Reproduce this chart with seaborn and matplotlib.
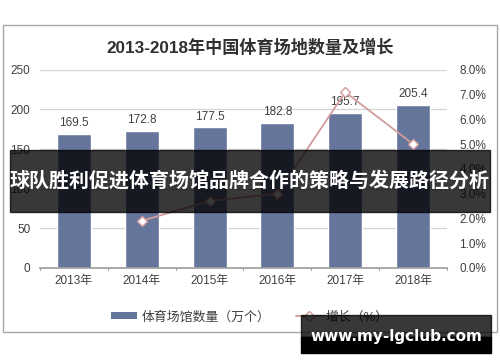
import numpy as np
import pandas as pd
import matplotlib
matplotlib.use("Agg")
import matplotlib.pyplot as plt
from matplotlib.patches import Rectangle, Patch
from matplotlib.lines import Line2D
import seaborn as sns

# ── Data ─────────────────────────────────────────────────────────────────────
years = ["2013年", "2014年", "2015年", "2016年", "2017年", "2018年"]
venues = [169.5, 172.8, 177.5, 182.8, 195.7, 205.4]          # 万个
growth = [np.nan, 1.9, 2.7, 3.0, 7.1, 5.0]                   # %

title = "2013-2018年中国体育场地数量及增长"
banner = "球队胜利促进体育场馆品牌合作的策略与发展路径分析"
watermark = "www.my-lgclub.com"
bar_label = "体育场馆数量（万个）"
line_label = "增长（%）"

BAR_C = "#66759b"
LINE_C = "#d29c9c"
TXT_C = "#404040"

sns.set_theme(style="white")
plt.rcParams["font.family"] = ["Liberation Sans", "Noto Sans CJK SC", "DejaVu Sans"]

df = pd.DataFrame({"year": years, "venues": venues, "growth": growth})

fig = plt.figure(figsize=(5.0, 3.62), dpi=100)
ax = fig.add_axes([0.08, 0.26, 0.814, 0.547])

sns.barplot(data=df, x="year", y="venues", color=BAR_C, width=0.5,
            saturation=1, ax=ax, zorder=2)
ax.set_ylim(0, 250)
ax.set_yticks(range(0, 251, 50))
ax.set_xlim(-0.5, len(years) - 0.5)
ax.grid(axis="y", color="#d4d4d4", lw=0.9, zorder=0)
ax.set_xlabel(""); ax.set_ylabel("")
for s in ["top", "right", "left"]:
    ax.spines[s].set_visible(False)
ax.spines["bottom"].set_color("#a0a0a0")
ax.tick_params(axis="y", length=0, labelsize=8.5, labelcolor=TXT_C, pad=7)
ax.tick_params(axis="x", length=0, labelsize=8.5, labelcolor=TXT_C, pad=5)
# category boundary ticks
for b in np.arange(-0.5, len(years), 1.0):
    ax.plot([b, b], [0, -3], color="#a0a0a0", lw=0.8, clip_on=False, zorder=3)

for i, v in enumerate(venues):
    ax.text(i, v + 6, f"{v:.1f}", ha="center", va="bottom", fontsize=8.5, color=TXT_C)

ax2 = ax.twinx()
x_pos = np.arange(len(years))
ax2.plot(x_pos, growth, color=LINE_C, lw=1.3, marker="D", ms=5,
         markerfacecolor="white", markeredgecolor=LINE_C, zorder=4)
ax2.set_ylim(0, 8)
ax2.set_yticks(range(0, 9))
ax2.set_yticklabels([f"{t:.1f}%" for t in range(0, 9)])
ax2.tick_params(axis="y", length=0, labelsize=8.5, labelcolor=TXT_C, pad=9)
for s in ax2.spines.values():
    s.set_visible(False)

# outer frame + title
fig.patches.append(Rectangle((0.006, 1 - 332 / 362), 0.988, (332 - 25) / 362,
                             transform=fig.transFigure, fill=False,
                             edgecolor="#a8a8a8", lw=1.0))
fig.text(0.5, 1 - 47 / 362, title, ha="center", va="center", fontsize=12.3,
         fontweight="bold", color="#303030")

# legend
handles = [Patch(facecolor=BAR_C, edgecolor="none"),
           Line2D([], [], color=LINE_C, lw=1.3, marker="D", ms=5,
                  markerfacecolor="white", markeredgecolor=LINE_C)]
fig.legend(handles, [bar_label, line_label], loc="center", ncol=2,
           bbox_to_anchor=(0.5, 1 - 317 / 362), frameon=False, fontsize=9.3,
           labelcolor=TXT_C, handlelength=2.0, handleheight=0.45,
           handletextpad=0.3, columnspacing=2.0)

# overlay banner
fig.patches.append(Rectangle((0.02, 1 - 212 / 362), 0.96, 62 / 362,
                             transform=fig.transFigure, color="black", alpha=0.78,
                             zorder=10))
fig.text(0.5, 1 - 181 / 362, banner, ha="center", va="center", fontsize=14.4,
         fontweight="bold", color="white", zorder=11)

# watermark
fig.patches.append(Rectangle((0.602, 1 - 337 / 362), 0.38, 22 / 362,
                             transform=fig.transFigure, color="black", alpha=0.78,
                             zorder=10))
fig.patches.append(Rectangle((0.602, 1 - 353 / 362), 0.38, 16 / 362,
                             transform=fig.transFigure, color="black", zorder=10))
fig.text(0.792, 1 - 337 / 362, watermark, ha="center", va="center", fontsize=11,
         fontweight="bold", color="white", family=["DejaVu Sans"], zorder=11)

fig.savefig("out.png", dpi=100)
